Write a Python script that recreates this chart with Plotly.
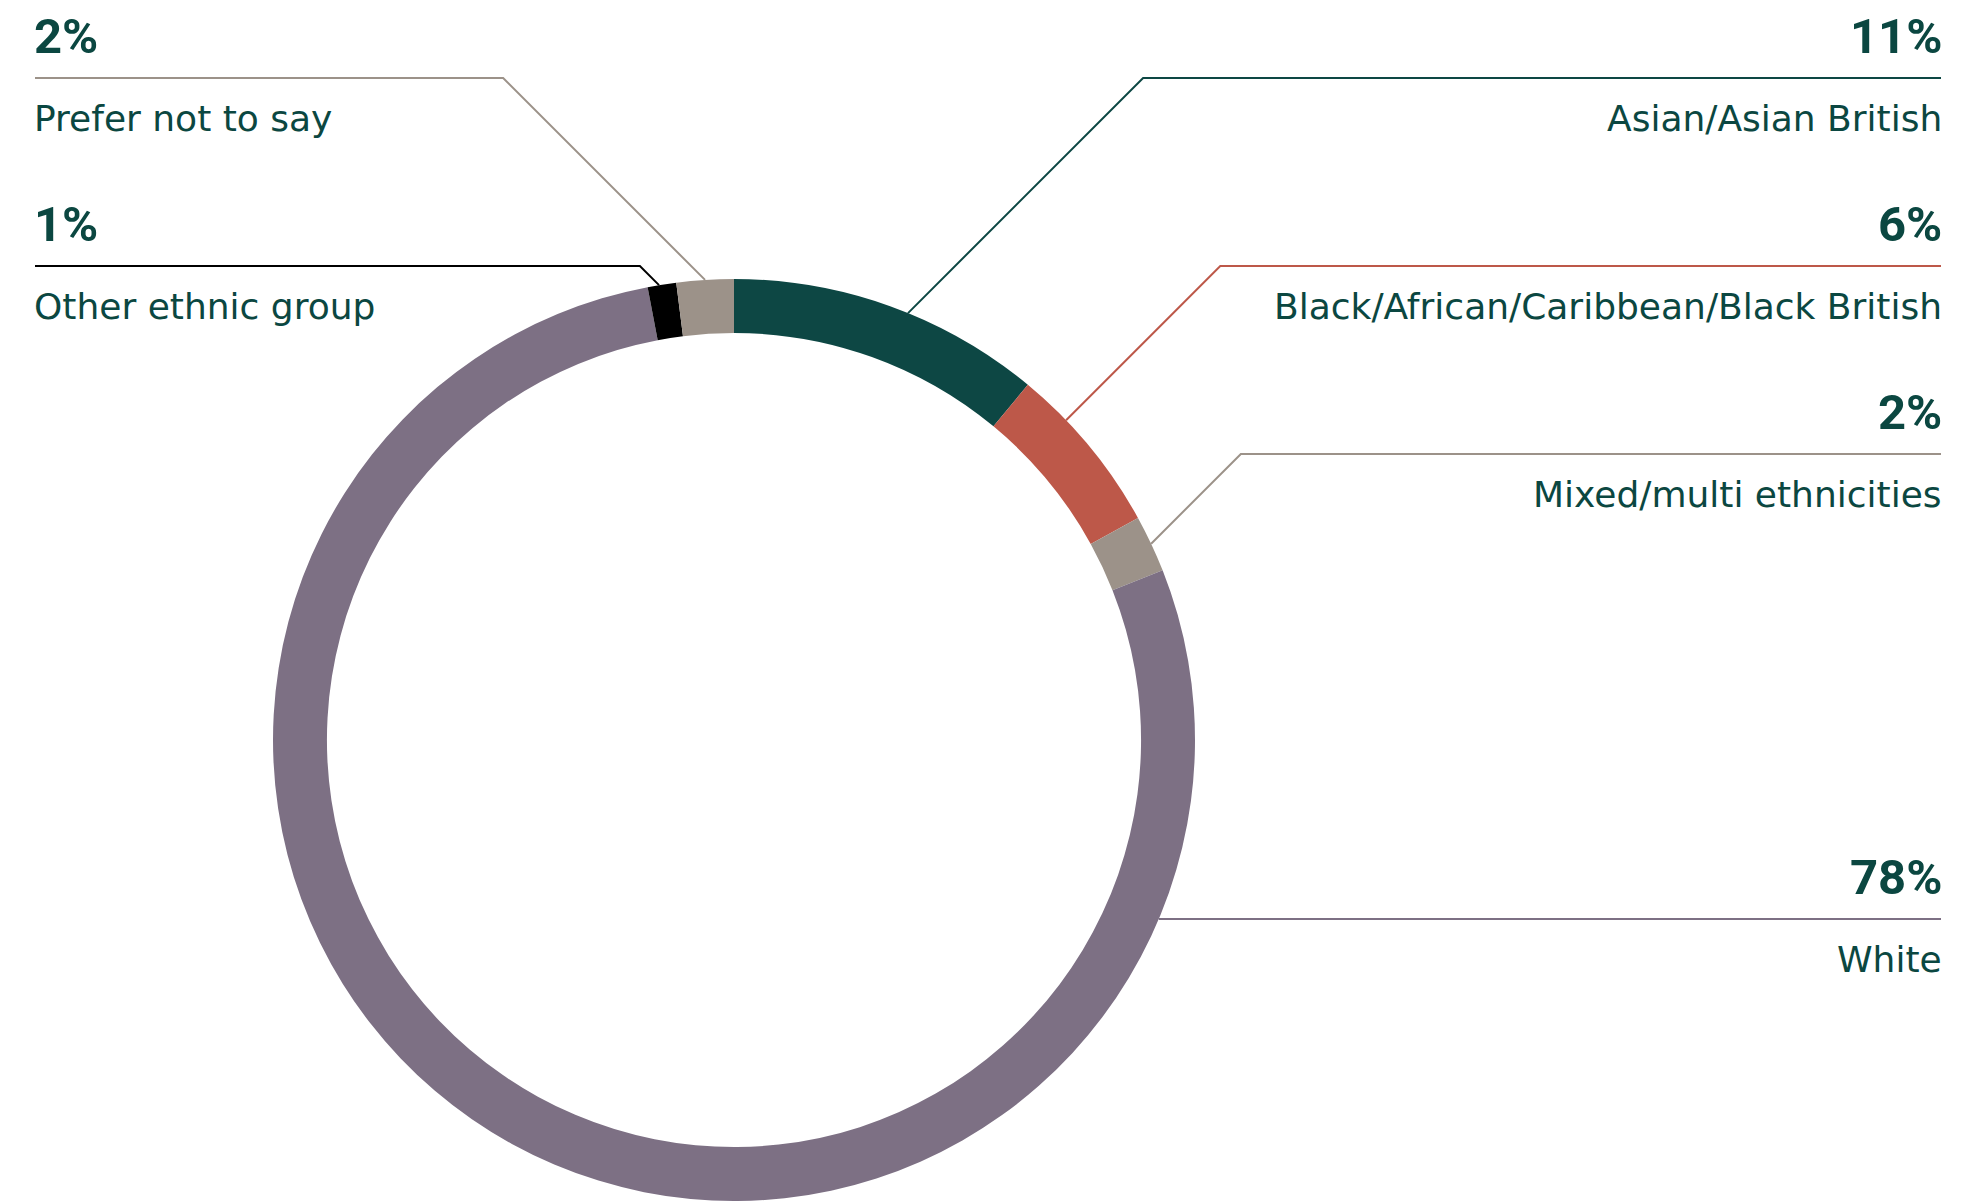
import math
import plotly.graph_objects as go

W, H = 1978, 1201

# Ethnicity breakdown, clockwise from 12 o'clock
categories = [
    "Asian/Asian British",
    "Black/African/Caribbean/Black British",
    "Mixed/multi ethnicities",
    "White",
    "Other ethnic group",
    "Prefer not to say",
]
shares = [11, 6, 2, 78, 1, 2]
pct_labels = ["11%", "6%", "2%", "78%", "1%", "2%"]
slice_colors = ["#0d4744", "#bd5849", "#9c9289", "#7d7084", "#000000", "#9c9289"]

# Label placement: which side, and the top of the percentage text in pixels
label_side = ["right", "right", "right", "right", "left", "left"]
label_top = [18, 206, 394, 859, 206, 18]
# Where along each slice its leader meets the ring (None = straight horizontal leader)
anchor_pos = [0.56, 0.30, 0.5, None, 0.4, 0.5]

TEXT = "#0b4741"
PCT_FONT = "Roboto"
NAME_FONT = "DejaVu Sans"
CX, CY, R = 734, 740, 461
HOLE = 0.883
LEFT_X, RIGHT_X = 35, 1941
TEXT_NUDGE = 3  # annotation padding compensation

fig = go.Figure()

fig.add_trace(go.Pie(
    labels=categories,
    values=shares,
    sort=False,
    direction="clockwise",
    rotation=0,
    hole=HOLE,
    marker=dict(colors=slice_colors, line=dict(width=0)),
    textinfo="none",
    hoverinfo="label+percent",
    showlegend=False,
    domain=dict(x=[(CX - R) / W, (CX + R) / W], y=[(H - CY - R) / H, (H - CY + R) / H]),
))

total = sum(shares)
start = 0.0
annotations = []
for name, val, pct, col, side, top, pos in zip(
        categories, shares, pct_labels, slice_colors, label_side, label_top, anchor_pos):
    line_y = top + 60
    edge_x = RIGHT_X if side == "right" else LEFT_X
    if pos is None:
        px = CX + math.sqrt(R ** 2 - (line_y - CY) ** 2)
        xs, ys = [px, edge_x], [line_y, line_y]
    else:
        theta = 2 * math.pi * (start + pos * val) / total
        px = CX + R * math.sin(theta)
        py = CY - R * math.cos(theta)
        dy = py - line_y
        elbow_x = px + dy if side == "right" else px - dy
        xs, ys = [px, elbow_x, edge_x], [py, line_y, line_y]
    start += val

    fig.add_trace(go.Scatter(
        x=xs, y=ys, mode="lines",
        line=dict(color=col, width=2),
        hoverinfo="skip", showlegend=False,
    ))

    anchor = "right" if side == "right" else "left"
    text_x = edge_x + TEXT_NUDGE if side == "right" else edge_x - TEXT_NUDGE
    annotations.append(dict(
        x=text_x, y=top + 18, xref="x", yref="y",
        text=f"<b>{pct}</b>", showarrow=False,
        xanchor=anchor, yanchor="middle",
        font=dict(family=PCT_FONT, size=49, color=TEXT),
    ))
    annotations.append(dict(
        x=text_x, y=top + 100, xref="x", yref="y",
        text=name, showarrow=False,
        xanchor=anchor, yanchor="middle",
        font=dict(family=NAME_FONT, size=36, color=TEXT),
    ))

fig.update_layout(
    width=W, height=H,
    margin=dict(l=0, r=0, t=0, b=0),
    paper_bgcolor="white",
    plot_bgcolor="white",
    xaxis=dict(range=[0, W], visible=False, domain=[0, 1], fixedrange=True),
    yaxis=dict(range=[H, 0], visible=False, domain=[0, 1], fixedrange=True),
    annotations=annotations,
)

fig.write_html("out.html")
